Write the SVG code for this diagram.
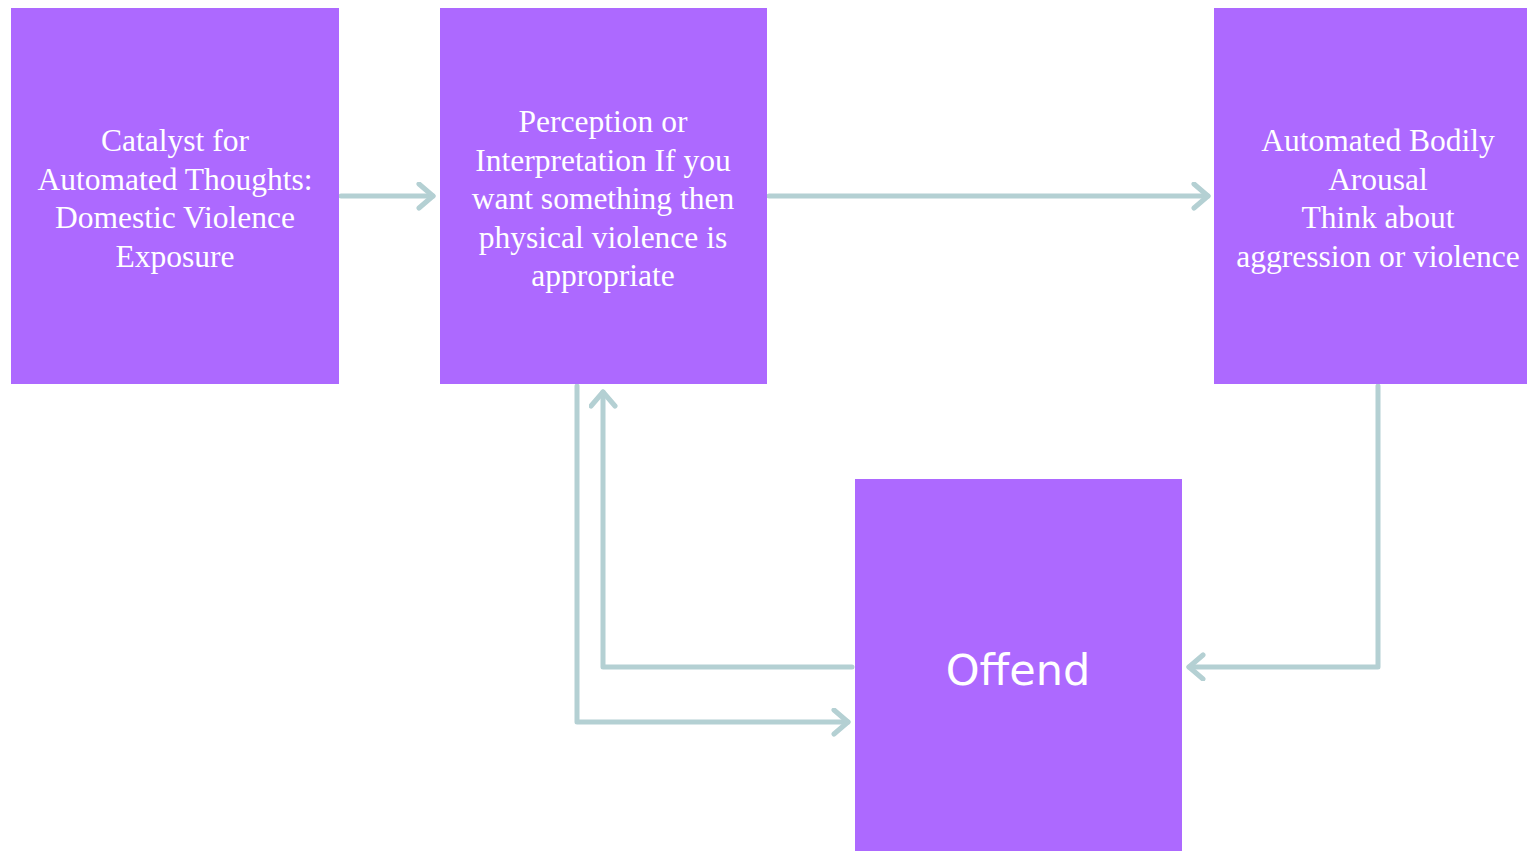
<svg xmlns="http://www.w3.org/2000/svg" width="1527" height="851" viewBox="0 0 1527 851">
<style>
.box{fill:#AD69FF}
.t{fill:#fff;font-family:"Liberation Serif","Times New Roman",serif;font-size:31.5px;text-anchor:middle}
.big{fill:#fff;font-family:"DejaVu Sans",sans-serif;font-size:43px;text-anchor:middle}
.c{fill:none;stroke:#B4D0D3;stroke-width:5;stroke-linecap:round;stroke-linejoin:round}
</style>
<defs>
<marker id="ah" markerUnits="userSpaceOnUse" markerWidth="30" markerHeight="30" refX="17" refY="14" orient="auto" viewBox="0 0 30 30">
<path d="M3,2 L17,14 L3,26" fill="none" stroke="#B4D0D3" stroke-width="5" stroke-linecap="round" stroke-linejoin="round"/>
</marker>
</defs>
<g id="connectors">
<path class="c" d="M341,196 L433,196" marker-end="url(#ah)"/>
<path class="c" d="M769,196 L1208,196" marker-end="url(#ah)"/>
<path class="c" d="M1378,386 L1378,667 L1189,667" marker-end="url(#ah)"/>
<path class="c" d="M852,667 L603,667 L603,392" marker-end="url(#ah)"/>
<path class="c" d="M577,386 L577,722 L848,722" marker-end="url(#ah)"/>
</g>
<g id="n1">
<rect class="box" x="11" y="8" width="328" height="376"/>
<text class="t" x="175" y="151">Catalyst for</text>
<text class="t" x="175" y="189.5">Automated Thoughts:</text>
<text class="t" x="175" y="228">Domestic Violence</text>
<text class="t" x="175" y="266.5">Exposure</text>
</g>
<g id="n2">
<rect class="box" x="440" y="8" width="327" height="376"/>
<text class="t" x="603" y="132">Perception or</text>
<text class="t" x="603" y="170.5">Interpretation If you</text>
<text class="t" x="603" y="209">want something then</text>
<text class="t" x="603" y="247.5">physical violence is</text>
<text class="t" x="603" y="286">appropriate</text>
</g>
<g id="n3">
<rect class="box" x="1214" y="8" width="313" height="376"/>
<text class="t" x="1378" y="151">Automated Bodily</text>
<text class="t" x="1378" y="189.5">Arousal</text>
<text class="t" x="1378" y="228">Think about</text>
<text class="t" x="1378" y="266.5">aggression or violence</text>
</g>
<g id="n4">
<rect class="box" x="855" y="479" width="327" height="372"/>
<text class="big" x="1018" y="685">Offend</text>
</g>
</svg>
